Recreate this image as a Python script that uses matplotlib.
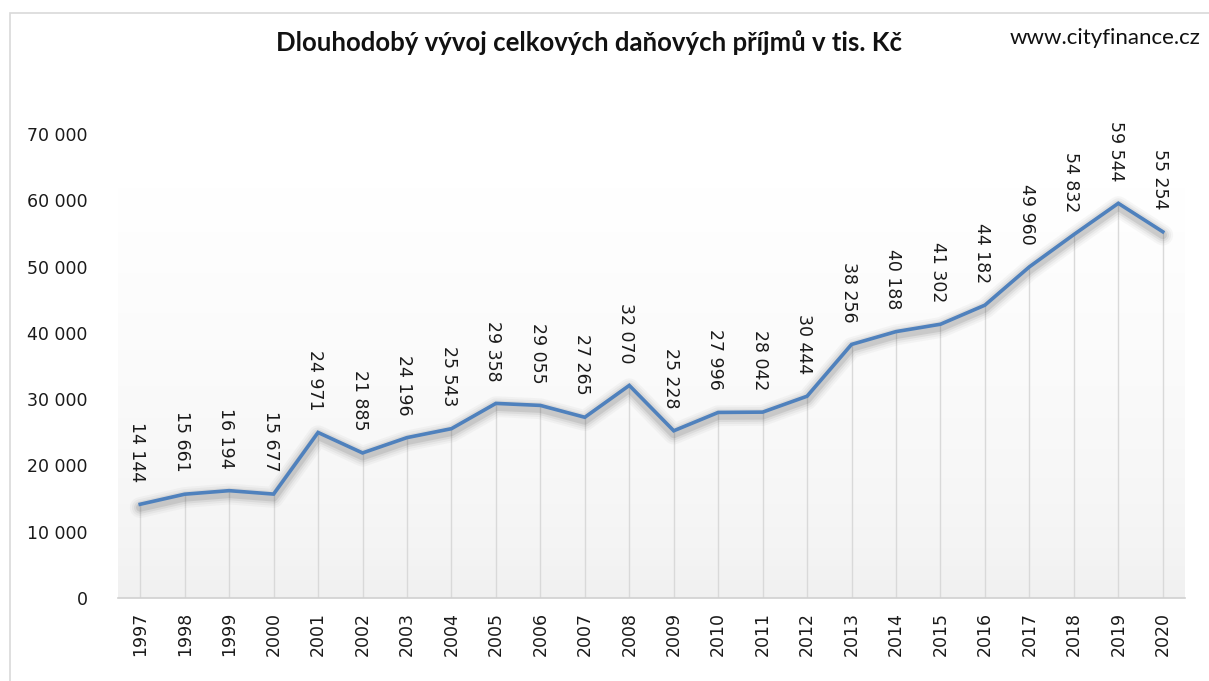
import matplotlib.pyplot as plt
import numpy as np
from matplotlib.patches import Rectangle

# data
years = ['1997', '1998', '1999', '2000', '2001', '2002', '2003', '2004', '2005', '2006',
         '2007', '2008', '2009', '2010', '2011', '2012', '2013', '2014', '2015', '2016',
         '2017', '2018', '2019', '2020']
values = [14144, 15661, 16194, 15677, 24971, 21885, 24196, 25543, 29358, 29055,
          27265, 32070, 25228, 27996, 28042, 30444, 38256, 40188, 41302, 44182,
          49960, 54832, 59544, 55254]
yticks = [0, 10000, 20000, 30000, 40000, 50000, 60000, 70000]

title = 'Dlouhodobý vývoj celkových daňových příjmů v tis. Kč'
source = 'www.cityfinance.cz'


def fmt(v):
    return f'{v:,}'.replace(',', ' ')


fig = plt.figure(figsize=(12.09, 6.81), dpi=100)
fig.patch.set_facecolor('white')

# chart area border (light gray)
fig.patches.append(Rectangle((10 / 1209, -0.1), 1.2, (681 - 13) / 681 + 0.1,
                             transform=fig.transFigure, fill=False,
                             edgecolor='#d9d9d9', linewidth=1.2))

ax = fig.add_axes([118 / 1209, 83 / 681, (1185 - 118) / 1209, (598 - 134) / 681])
x = np.arange(len(years))

# gradient plot background
grad = np.linspace(0, 1, 256) ** 0.6
col_bot = np.array([0.94, 0.94, 0.94])
img = np.ones((256, 1, 3)) * (col_bot + (1 - col_bot) * grad[:, None])[:, None, :]
ax.imshow(img, extent=[-0.5, 23.5, 0, 62000], origin='lower', aspect='auto', zorder=0)

# drop lines
for xi, v in zip(x, values):
    ax.plot([xi, xi], [0, v], color='#d9d9d9', linewidth=1.0, zorder=1)

# shadow under line
for w, a in [(15, 0.04), (12, 0.05), (9, 0.08), (6, 0.12)]:
    ax.plot(x, np.array(values) - 500, color='#444444', linewidth=w, alpha=a,
            solid_joinstyle='round', solid_capstyle='round', zorder=2)

ax.plot(x, values, color='#4f81bd', linewidth=2.6, solid_joinstyle='miter', zorder=3)

# data labels
for xi, v in zip(x, values):
    ax.annotate(fmt(v), (xi, v), xytext=(-2, 16), textcoords='offset points',
                rotation=270, ha='center', va='bottom', fontsize=12.5,
                color='#1a1a1a', clip_on=False, annotation_clip=False)

ax.set_xlim(-0.5, 23.5)
ax.set_ylim(0, 70000)
ax.set_xticks(x)
ax.set_xticklabels(years, rotation=90, fontsize=12.5, color='#1a1a1a')
ax.set_yticks(yticks)
ax.set_yticklabels([fmt(t) for t in yticks], fontsize=12.5, color='#1a1a1a')
ax.tick_params(axis='both', length=0)
ax.tick_params(axis='x', pad=10)
ax.tick_params(axis='y', pad=22)
for s in ['top', 'right', 'left']:
    ax.spines[s].set_visible(False)
ax.spines['bottom'].set_color('#d0d0d0')
ax.spines['bottom'].set_linewidth(1.2)

fig.text(589 / 1209, 1 - 43 / 681, title, ha='center', va='center',
         fontsize=18.5, fontweight='bold', family='Lato', color='#111111')
fig.text(1200 / 1209, 1 - 38 / 681, source, ha='right', va='center',
         fontsize=16, family='Lato', color='#111111')

fig.savefig('out.png', dpi=100)
